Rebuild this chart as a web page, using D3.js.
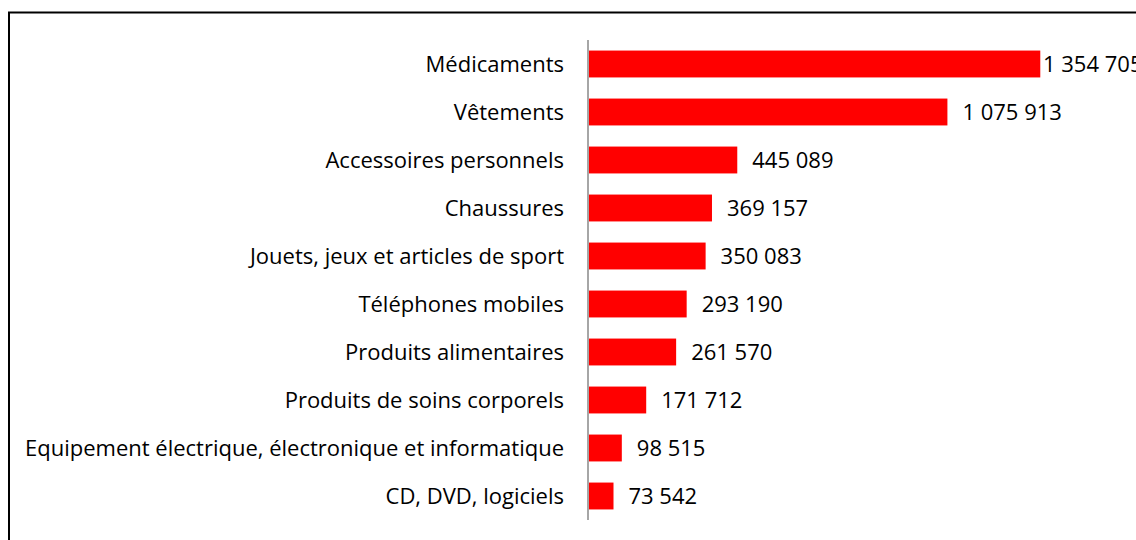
<!DOCTYPE html>
<html><head><meta charset="utf-8">
<script src="https://cdn.jsdelivr.net/npm/d3@7"></script>
<style>
html,body{margin:0;padding:0;background:#fff;overflow:hidden}
text{font-family:"Open Sans","Noto Sans",sans-serif;fill:#000}
</style></head>
<body>
<svg id="c" width="1136" height="540"></svg>
<script>
const categories = ["Médicaments","Vêtements","Accessoires personnels","Chaussures","Jouets, jeux et articles de sport","Téléphones mobiles","Produits alimentaires","Produits de soins corporels","Equipement électrique, électronique et informatique","CD, DVD, logiciels"];
const values = [1354705,1075913,445089,369157,350083,293190,261570,171712,98515,73542];
const valueLabels = ["1 354 705","1 075 913","445 089","369 157","350 083","293 190","261 570","171 712","98 515","73 542"];

const svg = d3.select("#c");
svg.append("rect").attr("x",9).attr("y",12.5).attr("width",1140).attr("height",540)
  .attr("fill","none").attr("stroke","#000").attr("stroke-width",2);

const axisX = 588;
const x = d3.scaleLinear().domain([0,1600000]).range([axisX+1, axisX+1+533]);
const y = d3.scaleBand().domain(categories).range([40,520]).paddingInner(0.44).paddingOuter(0.22);

svg.append("g").selectAll("rect").data(values).join("rect")
  .attr("x", x(0))
  .attr("y",(d,i)=>y(categories[i]))
  .attr("width",d=>x(d)-x(0))
  .attr("height",y.bandwidth())
  .attr("fill","#ff0000");

svg.append("line").attr("x1",axisX).attr("x2",axisX).attr("y1",40).attr("y2",520)
  .attr("stroke","#888").attr("stroke-width",1.5);

const fs = 22;
svg.append("g").selectAll("text").data(categories).join("text")
  .attr("x",564).attr("y",d=>y(d)+y.bandwidth()/2)
  .attr("dy","0.35em").attr("text-anchor","end").style("font-size",fs+"px").text(d=>d);

svg.append("g").selectAll("text").data(values).join("text")
  .attr("x",(d)=>Math.min(x(d)+15, 1043))
  .attr("y",(d,i)=>y(categories[i])+y.bandwidth()/2)
  .attr("dy","0.35em").style("font-size",fs+"px").text((d,i)=>valueLabels[i]);
</script>
</body></html>
